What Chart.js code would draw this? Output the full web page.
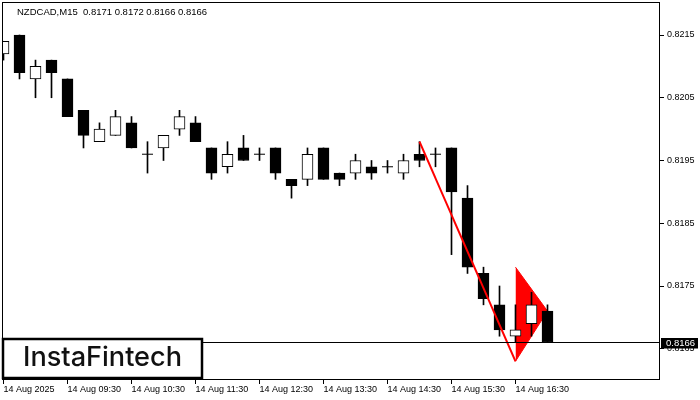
<!DOCTYPE html>
<html><head><meta charset="utf-8">
<script src="https://cdn.jsdelivr.net/npm/chart.js@4.4.0/dist/chart.umd.min.js"></script>
<style>html,body{margin:0;padding:0;background:#fff;}canvas{display:block;}</style>
</head><body>
<canvas id="c" width="700" height="400"></canvas>
<script>
const symbolTitle = 'NZDCAD,M15  0.8171 0.8172 0.8166 0.8166';
const logoText = 'InstaFintech';
const candleTimes = ['08:30','08:45','09:00','09:15','09:30','09:45','10:00','10:15','10:30','10:45',
  '11:00','11:15','11:30','11:45','12:00','12:15','12:30','12:45','13:00','13:15',
  '13:30','13:45','14:00','14:15','14:30','14:45','15:00','15:15','15:30','15:45',
  '16:00','16:15','16:30','16:45','17:00'];
const openValues  = [0.8212,0.8215,0.8208,0.8211,0.8208,0.8203,0.8198,0.8199,0.8201,0.8196,
  0.8197,0.8200,0.8201,0.8197,0.8194,0.8197,0.8196,0.8197,0.8192,0.8192,
  0.8197,0.8193,0.8193,0.8194,0.8194,0.8193,0.8196,0.8196,0.8197,0.8189,
  0.8177,0.8172,0.8167,0.8169,0.8171];
const highValues  = [0.8214,0.8215,0.8211,0.8211,0.8208,0.8203,0.8201,0.8203,0.8202,0.8198,
  0.8199,0.8203,0.8202,0.8197,0.8198,0.8199,0.8197,0.8197,0.8192,0.8197,
  0.8197,0.8193,0.8196,0.8195,0.8195,0.8196,0.8198,0.8197,0.8197,0.8191,
  0.8178,0.8175,0.8172,0.8174,0.8172];
const lowValues   = [0.8211,0.8208,0.8205,0.8205,0.8202,0.8197,0.8198,0.8199,0.8197,0.8193,
  0.8195,0.8199,0.8198,0.8192,0.8193,0.8195,0.8195,0.8192,0.8189,0.8191,
  0.8192,0.8191,0.8192,0.8192,0.8193,0.8192,0.8194,0.8194,0.8180,0.8177,
  0.8172,0.8167,0.8166,0.8167,0.8166];
const closeValues = [0.8214,0.8209,0.8210,0.8209,0.8202,0.8199,0.8200,0.8202,0.8197,0.8196,
  0.8199,0.8202,0.8198,0.8193,0.8196,0.8195,0.8196,0.8193,0.8191,0.8196,
  0.8192,0.8192,0.8195,0.8193,0.8194,0.8195,0.8195,0.8196,0.8190,0.8178,
  0.8173,0.8168,0.8168,0.8172,0.8166];
const xTickIndex  = [0,4,8,12,16,20,24,28,32];
const xTickLabels = ['14 Aug 2025','14 Aug 09:30','14 Aug 10:30','14 Aug 11:30','14 Aug 12:30',
  '14 Aug 13:30','14 Aug 14:30','14 Aug 15:30','14 Aug 16:30'];
const yTickValues = [0.8165,0.8175,0.8185,0.8195,0.8205,0.8215];
const flagpolePoints = [{x:26,y:0.8198},{x:32,y:0.8163}];
const pennantUpper = [{x:32,y:0.8178},{x:34,y:0.8171}];
const pennantLower = [{x:32,y:0.8163},{x:34,y:0.8171}];
const lastPrice = closeValues[closeValues.length-1];

const idx = candleTimes.map((t,i)=>i);
const wickData = idx.map(i=>({x:i, y:[lowValues[i], highValues[i]]}));
const bodyIdx = idx.filter(i=>openValues[i]!==closeValues[i]);
const bodyData = bodyIdx.map(i=>({x:i, y:[openValues[i], closeValues[i]]}));
const bodyColors = bodyIdx.map(i=>closeValues[i]>openValues[i] ? '#ffffff' : '#000000');
const dojiData = idx.filter(i=>openValues[i]===closeValues[i]).map(i=>({x:i, y:openValues[i]}));

Chart.defaults.font.family = 'Liberation Sans';
Chart.defaults.font.size = 9;
Chart.defaults.color = '#000';

const overlay = {
  id: 'overlay',
  afterDraw(chart) {
    const ctx = chart.ctx, ca = chart.chartArea, ys = chart.scales.y;
    ctx.save();
    ctx.strokeStyle = '#000'; ctx.lineWidth = 1;
    ctx.strokeRect(ca.left + 0.5, ca.top + 0.5, ca.width - 1, ca.height - 1);
    const py = Math.round(ys.getPixelForValue(lastPrice)) + 0.5;
    ctx.beginPath(); ctx.moveTo(ca.left, py); ctx.lineTo(ca.right, py); ctx.stroke();
    ctx.fillStyle = '#000';
    ctx.fillRect(ca.right + 1, py - 4.5, 37, 10.5);
    ctx.fillStyle = '#fff'; ctx.font = '9.5px "Liberation Sans"';
    ctx.textBaseline = 'middle'; ctx.textAlign = 'left';
    ctx.fillText(lastPrice.toFixed(4), ca.right + 6, py + 0.5);
    ctx.fillStyle = '#000'; ctx.font = '9.5px "Liberation Sans"';
    ctx.fillText(symbolTitle, 17, 12);
    ctx.fillStyle = '#fff';
    ctx.fillRect(3, 339, 199, 39);
    ctx.lineWidth = 2.5; ctx.strokeStyle = '#000';
    ctx.strokeRect(3, 339, 199, 39);
    let fs = 24;
    ctx.font = '500 ' + fs + 'px Inter';
    const w = ctx.measureText(logoText).width;
    fs = fs * 159 / w;
    ctx.font = '500 ' + fs.toFixed(2) + 'px Inter';
    ctx.fillStyle = '#111';
    ctx.textBaseline = 'alphabetic';
    ctx.fillText(logoText, 23, 366);
    ctx.restore();
  }
};

new Chart(document.getElementById('c'), {
  type: 'bar',
  data: {
    datasets: [
      {type:'line', data: pennantUpper, borderColor:'#ff0000', borderWidth:1, pointRadius:0, fill:false, order:10},
      {type:'line', data: pennantLower, borderColor:'#ff0000', backgroundColor:'#ff0000', borderWidth:1, pointRadius:0, fill:'-1', order:9},
      {type:'bar', data: wickData, backgroundColor:'#000', barThickness:1, grouped:false, order:6},
      {type:'bar', data: bodyData, backgroundColor: bodyColors, borderColor:'#000', borderWidth:1, borderSkipped:false, barThickness:11, grouped:false, order:5},
      {type:'line', data: dojiData, showLine:false, pointStyle:'line', pointRadius:5.5, pointBorderWidth:1, borderColor:'#000', pointBorderColor:'#000', order:4},
      {type:'line', data: flagpolePoints, borderColor:'#ff0000', borderWidth:2, pointRadius:0, fill:false, order:0}
    ]
  },
  options: {
    responsive: false,
    devicePixelRatio: 1,
    animation: false,
    layout: { autoPadding: false, padding: { left: 2, top: 2, right: 0, bottom: 0 } },
    plugins: { legend: {display:false}, tooltip: {enabled:false}, title: {display:false} },
    scales: {
      x: {
        type: 'linear', position: 'bottom', offset: false,
        min: -0.09375, max: 41.03125,
        afterBuildTicks: (axis) => { axis.ticks = xTickIndex.map(v => ({value: v})); },
        afterFit: (axis) => { axis.height = 20; axis.paddingLeft = 0; axis.paddingRight = 0; axis.paddingTop = 0; axis.paddingBottom = 0; },
        ticks: { autoSkip:false, maxRotation:0, minRotation:0, align:'start', padding:0,
          callback: (v) => xTickLabels[xTickIndex.indexOf(v)] },
        grid: { drawOnChartArea:false, drawTicks:true, tickLength:4, tickColor:'#000', offset:false },
        border: { display:false }
      },
      y: {
        type: 'linear', position: 'right',
        min: 0.816002, max: 0.822026,
        afterBuildTicks: (axis) => { axis.ticks = yTickValues.map(v => ({value: v})); },
        afterFit: (axis) => { axis.width = 40; axis.paddingLeft = 0; axis.paddingRight = 0; axis.paddingTop = 0; axis.paddingBottom = 0; },
        ticks: { padding:3, callback: (v) => Number(v).toFixed(4) },
        grid: { drawOnChartArea:false, drawTicks:true, tickLength:4, tickColor:'#000' },
        border: { display:false }
      }
    }
  },
  plugins: [overlay]
});
</script>
</body></html>
